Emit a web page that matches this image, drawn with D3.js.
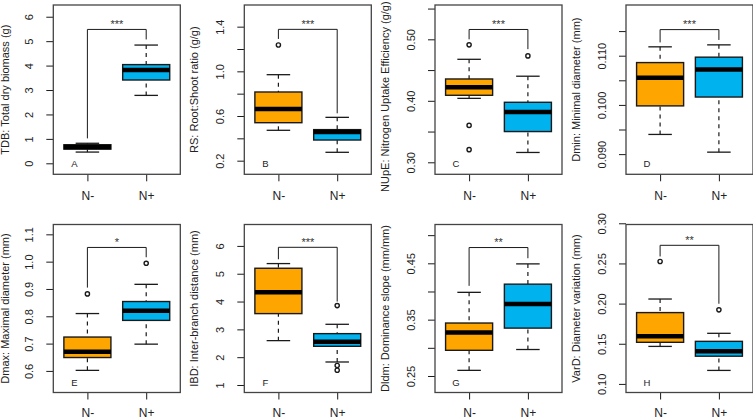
<!DOCTYPE html>
<html><head><meta charset="utf-8">
<script src="https://cdn.jsdelivr.net/npm/d3@7"></script>
<style>
html,body{margin:0;padding:0;background:#fff;}
svg{display:block;font-family:"Liberation Sans",Arial,sans-serif;}
</style></head>
<body><svg id="c" width="753" height="419"></svg>
<script>
// ---------- data ----------
const groups = ["N-", "N+"];
const panelLetters = ["A","B","C","D","E","F","G","H"];
const yTitles = [
  "TDB: Total dry biomass (g)",
  "RS: Root:Shoot ratio (g/g)",
  "NUpE: Nitrogen Uptake Efficiency (g/g)",
  "Dmin: Minimal diameter (mm)",
  "Dmax: Maximal diameter (mm)",
  "IBD: Inter-branch distance (mm)",
  "Dldm: Dominance slope (mm/mm)",
  "VarD: Diameter variation (mm)"
];
const significance = ["***","***","***","***","*","***","**","**"];

// box stats per group: [lower whisker, Q1, median, Q3, upper whisker]
const tdbStats  = [[0.46, 0.58, 0.67, 0.76, 0.82], [2.78, 3.41, 3.82, 4.04, 4.84]];
const rsStats   = [[0.472, 0.540, 0.663, 0.815, 0.970], [0.275, 0.385, 0.457, 0.478, 0.588]];
const nupeStats = [[0.404, 0.409, 0.422, 0.4355, 0.4675], [0.316, 0.350, 0.382, 0.3976, 0.440]];
const dminStats = [[0.0940, 0.0998, 0.1055, 0.1086, 0.1118], [0.0904, 0.1016, 0.1072, 0.1097, 0.1122]];
const dmaxStats = [[0.602, 0.649, 0.670, 0.724, 0.810], [0.698, 0.785, 0.820, 0.854, 0.917]];
const ibdStats  = [[2.595, 3.566, 4.333, 5.197, 5.365], [1.827, 2.391, 2.559, 2.846, 3.182]];
const dldmStats = [[0.260, 0.2956, 0.327, 0.344, 0.3985], [0.297, 0.335, 0.378, 0.413, 0.449]];
const vardStats = [[0.1467, 0.1518, 0.1594, 0.1888, 0.2057], [0.1168, 0.1345, 0.1408, 0.153, 0.163]];

// outliers per group
const tdbOut  = [[], []];
const rsOut   = [[1.236], []];
const nupeOut = [[0.491, 0.360, 0.3206], [0.473]];
const dminOut = [[], []];
const dmaxOut = [[0.882], [0.994]];
const ibdOut  = [[], [3.854, 1.70, 1.53]];
const dldmOut = [[], []];
const vardOut = [[0.2524], [0.1922]];

// significance bracket: [top, left leg end, right leg end]
const tdbBracket  = [5.48, 1.02, 5.07];
const rsBracket   = [1.376, 1.29, 0.624];
const nupeBracket = [0.516, 0.500, 0.484];
const dminBracket = [0.1153, 0.1127, 0.1132];
const dmaxBracket = [1.052, 0.905, 1.016];
const ibdBracket  = [5.95, 5.52, 4.0];
const dldmBracket = [0.478, 0.410, 0.459];
const vardBracket = [0.2726, 0.2587, 0.1998];

// y axis ticks and tick labels ("" = unlabeled tick)
const tdbTicks = [0,1,2,3,4,5,6];
const tdbTickLabels = ["0","1","2","3","4","5","6"];
const rsTicks = [0.2,0.4,0.6,0.8,1.0,1.2,1.4];
const rsTickLabels = ["0.2","","0.6","","1.0","","1.4"];
const nupeTicks = [0.30,0.35,0.40,0.45,0.50,0.55];
const nupeTickLabels = ["0.30","","0.40","","0.50",""];
const dminTicks = [0.090,0.095,0.100,0.105,0.110,0.115];
const dminTickLabels = ["0.090","","0.100","","0.110",""];
const dmaxTicks = [0.6,0.7,0.8,0.9,1.0,1.1];
const dmaxTickLabels = ["0.6","0.7","0.8","0.9","1.0","1.1"];
const ibdTicks = [1,2,3,4,5,6];
const ibdTickLabels = ["1","2","3","4","5","6"];
const dldmTicks = [0.25,0.30,0.35,0.40,0.45,0.50];
const dldmTickLabels = ["0.25","","0.35","","0.45",""];
const vardTicks = [0.10,0.15,0.20,0.25,0.30];
const vardTickLabels = ["0.10","0.15","0.20","0.25","0.30"];

// y axis ranges (plot limits)
const tdbRange  = [-0.45, 6.48];
const rsRange   = [0.078, 1.594];
const nupeRange = [0.2805, 0.5558];
const dminRange = [0.0859, 0.1203];
const dmaxRange = [0.521, 1.136];
const ibdRange  = [0.73, 6.77];
const dldmRange = [0.2207, 0.5189];
const vardRange = [0.0893, 0.2985];

// ---------- layout ----------
const colLeft = [53.3, 244.3, 435, 626];
const rowTop = [5, 224.5];
const rowBottom = [174.3, 392.5];
const rowLabelOffset = [26, 24];
const titleOffset = [44.5, 46, 46, 46];
const titleShift = [0, 0, 7, 0, 0, 0, 0, 0];
const frameW = 127;
const fills = ["#FFA500", "#00B2EE"];

const stats = [tdbStats, rsStats, nupeStats, dminStats, dmaxStats, ibdStats, dldmStats, vardStats];
const outs = [tdbOut, rsOut, nupeOut, dminOut, dmaxOut, ibdOut, dldmOut, vardOut];
const brackets = [tdbBracket, rsBracket, nupeBracket, dminBracket, dmaxBracket, ibdBracket, dldmBracket, vardBracket];
const ticks = [tdbTicks, rsTicks, nupeTicks, dminTicks, dmaxTicks, ibdTicks, dldmTicks, vardTicks];
const tickLabels = [tdbTickLabels, rsTickLabels, nupeTickLabels, dminTickLabels, dmaxTickLabels, ibdTickLabels, dldmTickLabels, vardTickLabels];
const ranges = [tdbRange, rsRange, nupeRange, dminRange, dmaxRange, ibdRange, dldmRange, vardRange];

const svg = d3.select("#c");
const ink = "#1a1a1a";

for (let p = 0; p < 8; p++) {
  const r = Math.floor(p / 4), c = p % 4;
  const L = colLeft[c], T = rowTop[r], B = rowBottom[r], R = L + frameW;
  const x = d3.scaleLinear().domain([0.42, 2.58]).range([L, R]);
  const y = d3.scaleLinear().domain(ranges[p]).range([B, T]);
  const g = svg.append("g");
  const unit = x(1) - x(0);

  // y axis
  const tk = ticks[p], tl = tickLabels[p];
  const yAxis = d3.axisLeft(y).tickValues(tk).tickSize(7).tickPadding(0)
      .tickFormat((d, i) => tl[i]);
  const ya = g.append("g").attr("transform", `translate(${L},0)`).call(yAxis);
  ya.select(".domain").remove();
  ya.selectAll(".tick line").attr("stroke", ink).attr("stroke-width", 1);
  ya.selectAll(".tick text")
    .attr("x", 0).attr("dy", 0)
    .attr("transform", `translate(${-20.5},0) rotate(-90)`)
    .attr("text-anchor", "middle")
    .attr("font-size", 11).attr("fill", "#222")
    .style("font-family", "Liberation Sans, Arial, sans-serif");

  // x axis
  const xAxis = d3.axisBottom(x).tickValues([1, 2]).tickSize(7).tickPadding(0)
      .tickFormat((d) => groups[d - 1]);
  const xa = g.append("g").attr("transform", `translate(0,${B})`).call(xAxis);
  xa.select(".domain").remove();
  xa.selectAll(".tick line").attr("stroke", ink).attr("stroke-width", 1);
  xa.selectAll(".tick text").attr("y", rowLabelOffset[r]).attr("dy", 0)
    .attr("font-size", 12).attr("fill", "#222")
    .style("font-family", "Liberation Sans, Arial, sans-serif");

  // y title
  g.append("text")
    .attr("transform", `translate(${L - titleOffset[c]},${(T + B) / 2 + titleShift[p]}) rotate(-90)`)
    .attr("text-anchor", "middle").attr("font-size", 11).attr("fill", "#222")
    .text(yTitles[p]);

  // boxes
  stats[p].forEach((s, i) => {
    const cx = x(i + 1);
    const hw = 0.4 * unit, cw = 0.2 * unit;
    // whiskers (dashed)
    g.append("line").attr("x1", cx).attr("x2", cx).attr("y1", y(s[0])).attr("y2", y(s[1]))
      .attr("stroke", ink).attr("stroke-width", 1.2).attr("stroke-dasharray", "4,4");
    g.append("line").attr("x1", cx).attr("x2", cx).attr("y1", y(s[4])).attr("y2", y(s[3]))
      .attr("stroke", ink).attr("stroke-width", 1.2).attr("stroke-dasharray", "4,4");
    // caps
    [s[0], s[4]].forEach(v => {
      g.append("line").attr("x1", cx - cw).attr("x2", cx + cw).attr("y1", y(v)).attr("y2", y(v))
        .attr("stroke", ink).attr("stroke-width", 1.3);
    });
    // box
    g.append("rect").attr("x", cx - hw).attr("width", 2 * hw)
      .attr("y", y(s[3])).attr("height", y(s[1]) - y(s[3]))
      .attr("fill", fills[i]).attr("stroke", ink).attr("stroke-width", 1.4);
    // median
    g.append("line").attr("x1", cx - hw).attr("x2", cx + hw).attr("y1", y(s[2])).attr("y2", y(s[2]))
      .attr("stroke", "#000").attr("stroke-width", 4.5);
    // outliers
    outs[p][i].forEach(v => {
      g.append("circle").attr("cx", cx).attr("cy", y(v)).attr("r", 2.1)
        .attr("fill", "none").attr("stroke", ink).attr("stroke-width", 1.4);
    });
  });

  // bracket
  const bk = brackets[p];
  g.append("path")
    .attr("d", `M${x(1)},${y(bk[1])}V${y(bk[0])}H${x(2)}V${y(bk[2])}`)
    .attr("fill", "none").attr("stroke", ink).attr("stroke-width", 1);
  g.append("text").attr("x", (x(1) + x(2)) / 2).attr("y", y(bk[0]) - 1.5)
    .attr("text-anchor", "middle").attr("font-size", 11).attr("fill", "#333")
    .text(significance[p]);

  // panel letter
  g.append("text").attr("x", L + 21).attr("y", B - 7)
    .attr("text-anchor", "middle").attr("font-size", 9.5).attr("fill", "#222")
    .text(panelLetters[p]);

  // frame
  g.append("rect").attr("x", L).attr("y", T).attr("width", frameW).attr("height", B - T)
    .attr("fill", "none").attr("stroke", "#444").attr("stroke-width", 1.3);
}
</script></body></html>
